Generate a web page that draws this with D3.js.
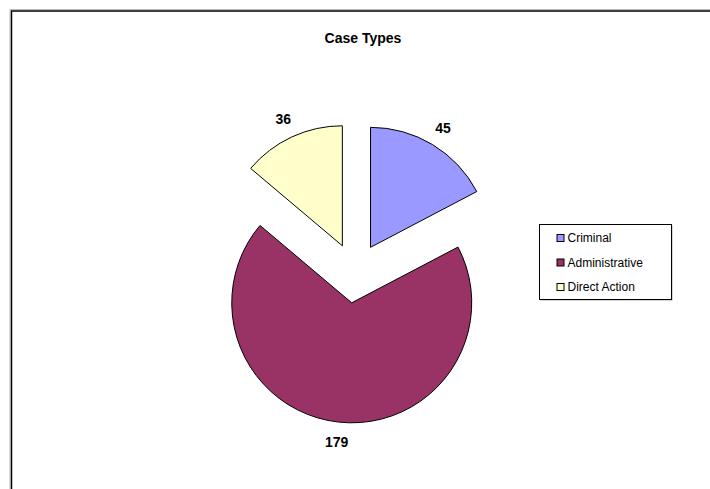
<!DOCTYPE html>
<html>
<head>
<meta charset="utf-8">
<script src="https://cdn.jsdelivr.net/npm/d3@7"></script>
<style>
  html, body { margin: 0; padding: 0; background: #fff; }
  svg { display: block; }
  text { font-family: "Liberation Sans", Arial, sans-serif; }
</style>
</head>
<body>
<svg id="chart" width="710" height="489"></svg>
<script>
'use strict';

// Chart data
var categories = ['Criminal', 'Administrative', 'Direct Action'],
    values = [45, 179, 36],
    colors = ['#9999FF', '#993366', '#FFFFCC'],
    title = 'Case Types';

// Layout
var cx = 355,
    cy = 273,
    radius = 120,
    explode = 30,
    labelDist = 170;

var svg = d3.select('#chart');

// Outer chart frame (right and bottom edges fall outside the window)
svg.append('rect')
    .attr('x', 10)
    .attr('y', 9.5)
    .attr('width', 900)
    .attr('height', 700)
    .attr('fill', 'none')
    .attr('stroke', '#bbb')
    .attr('stroke-width', 1);

svg.append('rect')
    .attr('x', 11.5)
    .attr('y', 11)
    .attr('width', 900)
    .attr('height', 700)
    .attr('fill', 'none')
    .attr('stroke', '#000')
    .attr('stroke-width', 1.5);

svg.append('text')
    .attr('x', 363)
    .attr('y', 38)
    .attr('text-anchor', 'middle')
    .attr('dominant-baseline', 'central')
    .attr('font-size', '14px')
    .attr('font-weight', 'bold')
    .text(title);

var data = categories.map(function (c, i) {
    return { name: c, value: values[i], color: colors[i] };
});

var pie = d3.pie()
    .sort(null)
    .value(function (d) { return d.value; });

var arcs = pie(data);

var arc = d3.arc()
    .innerRadius(0)
    .outerRadius(radius);

function mid(a) {
    return (a.startAngle + a.endAngle) / 2;
}

var world = svg.append('g')
    .attr('transform', 'translate(' + cx + ',' + cy + ')');

// Exploded slices
world.selectAll('path.slice')
    .data(arcs)
    .enter()
    .append('path')
    .attr('class', 'slice')
    .attr('d', arc)
    .attr('transform', function (d) {
        var m = mid(d);
        return 'translate(' + (Math.sin(m) * explode) + ',' + (-Math.cos(m) * explode) + ')';
    })
    .attr('fill', function (d) { return d.data.color; })
    .attr('stroke', '#000')
    .attr('stroke-width', 1)
    .attr('stroke-linejoin', 'miter');

// Value labels
world.selectAll('text.label')
    .data(arcs)
    .enter()
    .append('text')
    .attr('class', 'label')
    .attr('x', function (d) { return Math.sin(mid(d)) * labelDist; })
    .attr('y', function (d) { return -Math.cos(mid(d)) * labelDist; })
    .attr('text-anchor', 'middle')
    .attr('dominant-baseline', 'central')
    .attr('font-size', '14px')
    .attr('font-weight', 'bold')
    .text(function (d) { return d.data.value; });

// Legend
var legend = svg.append('g')
    .attr('transform', 'translate(539.5, 224.5)');

legend.append('rect')
    .attr('x', 1)
    .attr('y', 1)
    .attr('width', 132)
    .attr('height', 75)
    .attr('fill', '#aaa');

legend.append('rect')
    .attr('width', 132)
    .attr('height', 75)
    .attr('fill', '#fff')
    .attr('stroke', '#000')
    .attr('stroke-width', 1);

var item = legend.selectAll('g.item')
    .data(data)
    .enter()
    .append('g')
    .attr('class', 'item')
    .attr('transform', function (d, i) {
        return 'translate(17,' + (13.5 + i * 24.5) + ')';
    });

item.append('rect')
    .attr('x', 0.5)
    .attr('y', -3.5)
    .attr('width', 7)
    .attr('height', 7)
    .attr('fill', function (d) { return d.color; })
    .attr('stroke', '#000')
    .attr('stroke-width', 1);

item.append('text')
    .attr('x', 11)
    .attr('y', 0)
    .attr('dominant-baseline', 'central')
    .attr('font-size', '12px')
    .text(function (d) { return d.name; });
</script>
</body>
</html>
